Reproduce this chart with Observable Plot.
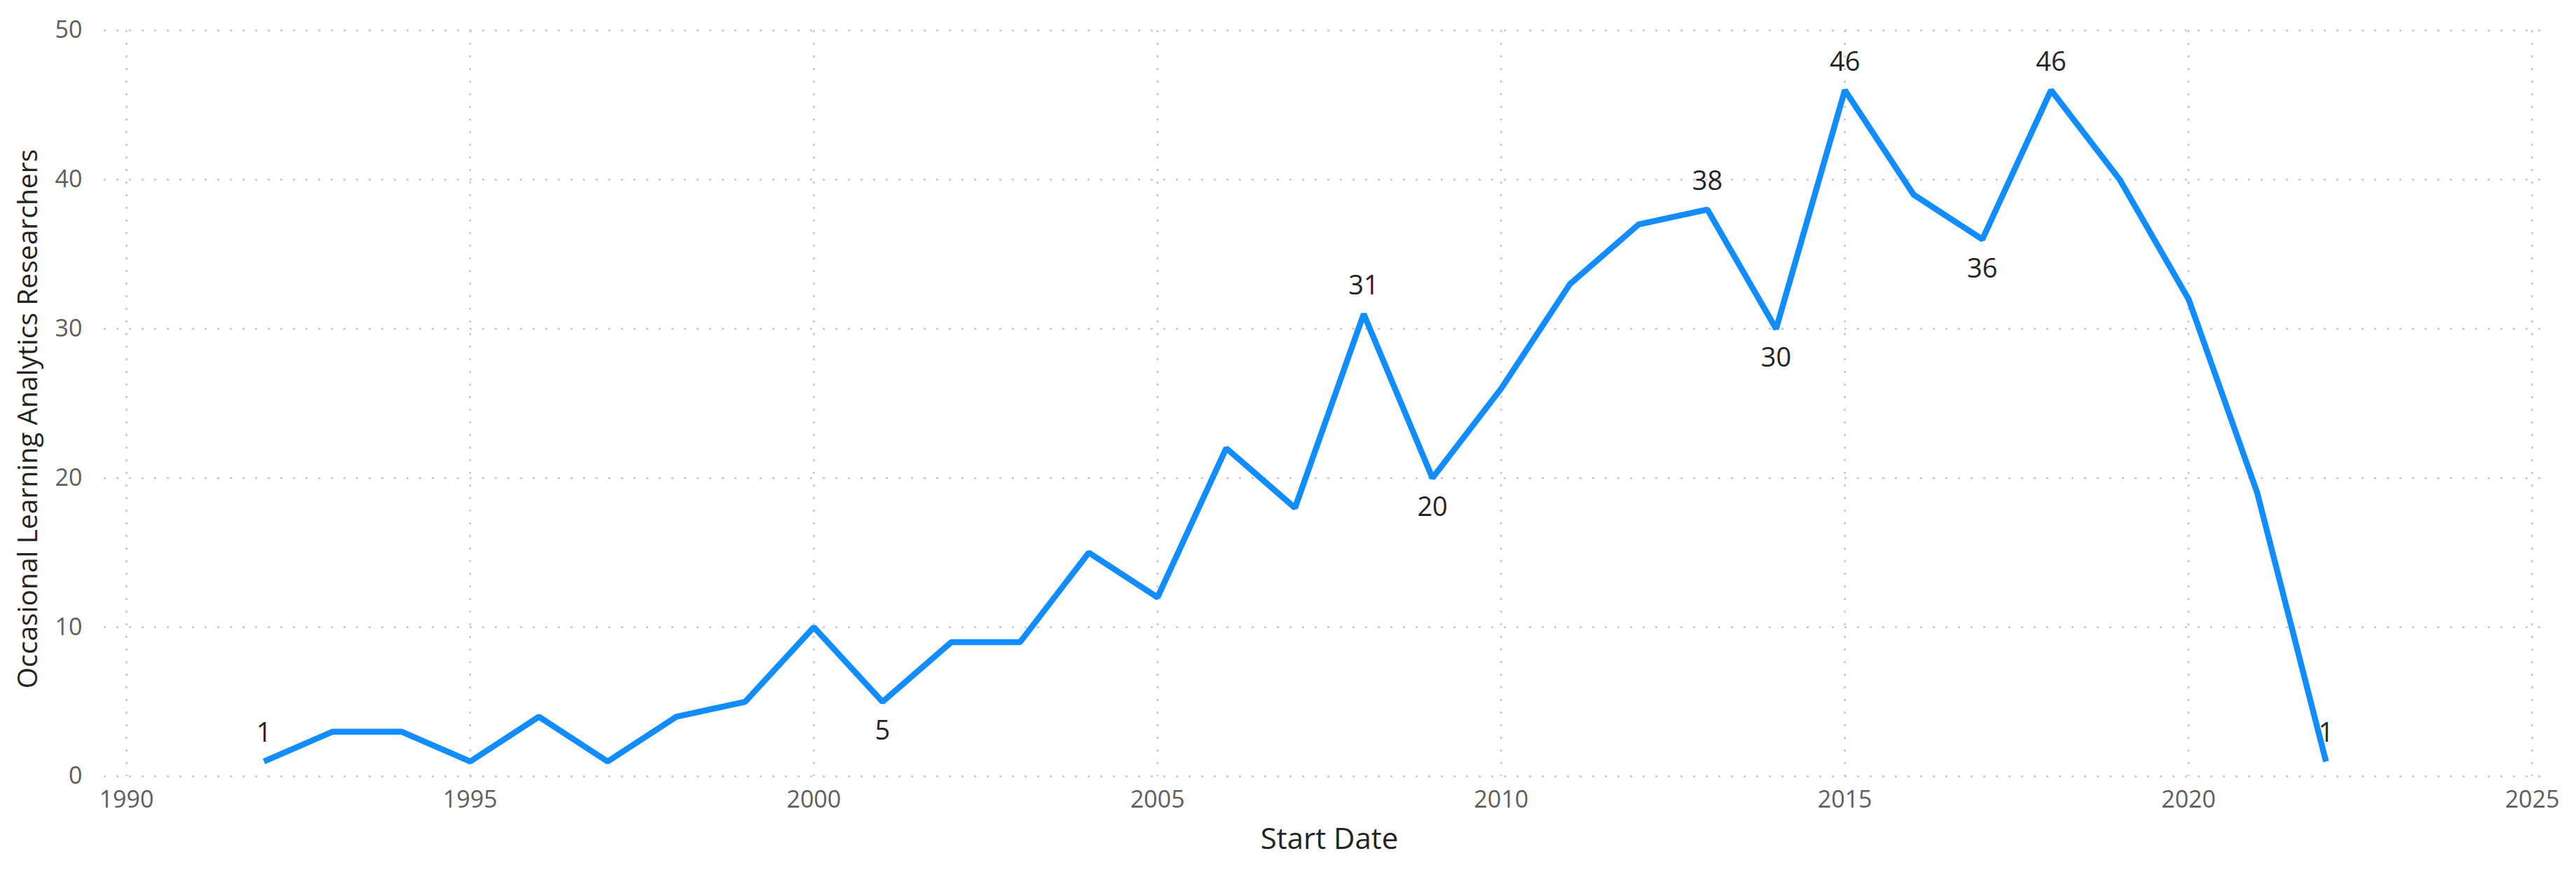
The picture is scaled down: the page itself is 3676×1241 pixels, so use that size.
<!DOCTYPE html>
<html><head><meta charset="utf-8">
<script src="https://cdn.jsdelivr.net/npm/d3@7"></script>
<script src="https://cdn.jsdelivr.net/npm/@observablehq/plot@0.6"></script>
<style>body{margin:0;background:#fff;}</style>
</head><body><div id="chart"></div>
<script>
const years = [1992,1993,1994,1995,1996,1997,1998,1999,2000,2001,2002,2003,2004,2005,2006,2007,2008,2009,2010,2011,2012,2013,2014,2015,2016,2017,2018,2019,2020,2021,2022];
const researchers = [1,3,3,1,4,1,4,5,10,5,9,9,15,12,22,18,31,20,26,33,37,38,30,46,39,36,46,40,32,19,1];
const xTicks = [1990,1995,2000,2005,2010,2015,2020,2025];
const yTicks = [0,10,20,30,40,50];
const labelsAbove = [1992,2008,2013,2015,2018,2022];
const labelsBelow = [2001,2009,2014,2017];
const xTitle = "Start Date";
const yTitle = "Occasional Learning Analytics Researchers";

const data = years.map((year, i) => ({year, value: researchers[i]}));
const font = "'Segoe UI', 'Open Sans', sans-serif";
const gridStyle = {stroke: "#c8c6c4", strokeOpacity: 1, strokeWidth: 2.5, strokeDasharray: "3,15"};

const chart = Plot.plot({
  width: 3676, height: 1241,
  marginTop: 43, marginBottom: 134, marginLeft: 180, marginRight: 63,
  style: {fontFamily: font, background: "#fff"},
  x: {domain: [1990, 2025]},
  y: {domain: [0, 50]},
  marks: [
    Plot.gridY(yTicks, {...gridStyle, insetLeft: -32, insetRight: -27}),
    Plot.gridX(xTicks, {...gridStyle}),
    Plot.axisX(xTicks, {tickSize: 0, tickPadding: 20, fontSize: 34, fill: "#605e5c", label: null, tickFormat: d => String(d)}),
    Plot.axisY(yTicks, {tickSize: 0, tickPadding: 63, fontSize: 34, fill: "#605e5c", label: null}),
    Plot.line(data, {x: "year", y: "value", stroke: "#118dff", strokeWidth: 8.5, strokeLinejoin: "miter", strokeLinecap: "butt"}),
    Plot.text(data.filter(d => labelsAbove.includes(d.year)), {x: "year", y: "value", text: d => String(d.value), dy: -40, fontSize: 38, fill: "#252423", lineAnchor: "middle"}),
    Plot.text(data.filter(d => labelsBelow.includes(d.year)), {x: "year", y: "value", text: d => String(d.value), dy: 42, fontSize: 38, fill: "#252423", lineAnchor: "middle"}),
    Plot.text([xTitle], {text: d => d, frameAnchor: "bottom", dy: 90, fontSize: 42, fill: "#252423", lineAnchor: "middle", textAnchor: "middle"}),
    Plot.text([yTitle], {text: d => d, frameAnchor: "left", dx: -140, dy: 22, rotate: -90, fontSize: 39, fill: "#252423", lineAnchor: "middle", textAnchor: "middle"})
  ]
});
document.getElementById("chart").appendChild(chart);
</script>
</body></html>
